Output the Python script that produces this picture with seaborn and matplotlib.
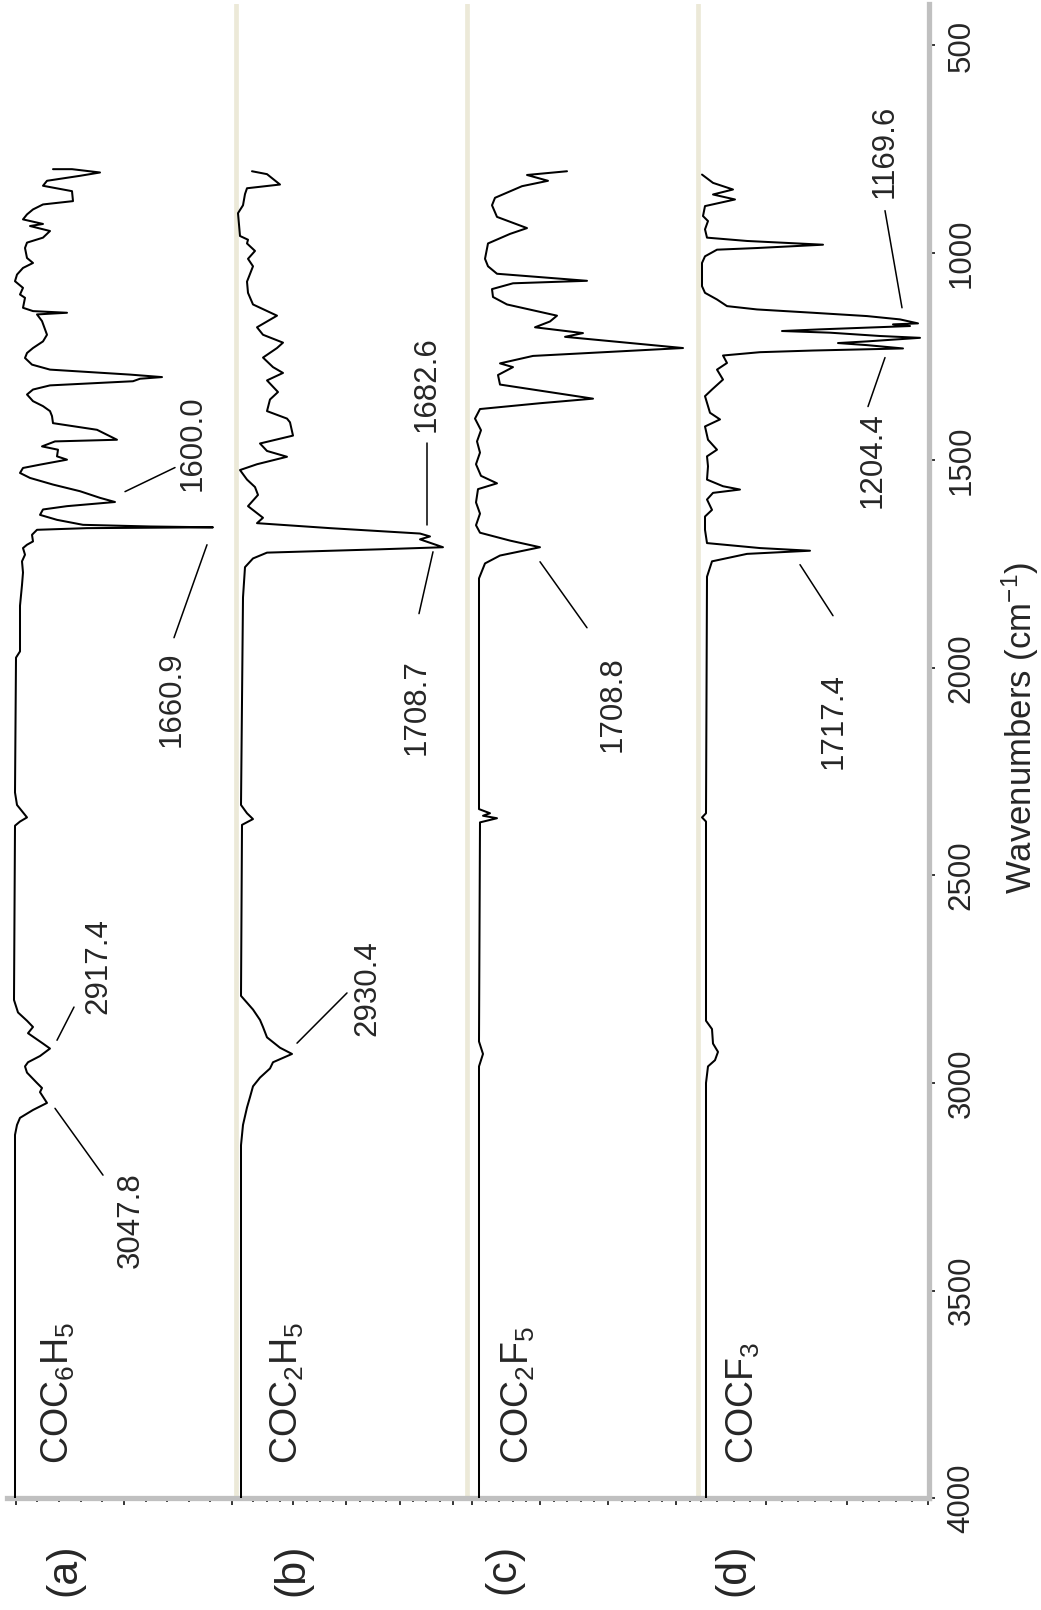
import numpy as np
import pandas as pd
import matplotlib
matplotlib.use("Agg")
import matplotlib.pyplot as plt
import seaborn as sns

# ---------------- data (wavenumber in cm-1, absorbance in arbitrary units) ----------------
a_wn = [798, 798, 806, 814, 826, 838, 851, 875, 883, 895,
        907, 919, 930, 935, 947, 963, 975, 988, 1012, 1024,
        1036, 1052, 1068, 1084, 1100, 1108, 1132, 1140, 1144, 1148,
        1164, 1197, 1213, 1229, 1241, 1253, 1269, 1281, 1293, 1299,
        1303, 1309, 1319, 1329, 1341, 1357, 1369, 1381, 1393, 1410,
        1426, 1450, 1454, 1466, 1474, 1490, 1498, 1510, 1518, 1530,
        1542, 1558, 1574, 1590, 1600, 1610, 1618, 1631, 1643, 1655,
        1659, 1661, 1663, 1667, 1679, 1695, 1703, 1711, 1727, 1743,
        1770, 1800, 1850, 1960, 1975, 2300, 2330, 2345, 2360, 2370,
        2380, 2800, 2830, 2850, 2865, 2880, 2905, 2917, 2935, 2950,
        2960, 2975, 3000, 3012, 3022, 3048, 3065, 3084, 3101, 3125,
        4000]
a_abs = [38, 57, 85, 65, 32, 28, 57, 58, 28, 18,
         12, 8, 28, 15, 35, 28, 12, 10, 12, 18,
         8, 2, 0, 8, 5, 10, 8, 18, 52, 22,
         27, 32, 28, 18, 12, 10, 17, 35, 115, 147,
         125, 118, 35, 18, 12, 18, 28, 35, 37, 38,
         82, 102, 40, 27, 43, 42, 52, 25, 8, 5,
         15, 38, 65, 85, 100, 52, 28, 25, 42, 68,
         135, 198, 72, 22, 17, 18, 12, 8, 10, 7,
         8, 7, 5, 5, 1, 0, 2, 7, 12, 5,
         0, -1, 3, 12, 18, 13, 28, 35, 25, 13,
         10, 12, 22, 27, 25, 32, 18, 5, 2, 0,
         0]

b_wn = [803, 810, 835, 844, 858, 885, 904, 959, 968, 977,
        995, 1014, 1032, 1069, 1096, 1124, 1151, 1165, 1179, 1197,
        1216, 1229, 1252, 1275, 1289, 1307, 1335, 1353, 1381, 1399,
        1408, 1440, 1459, 1477, 1491, 1509, 1523, 1546, 1564, 1583,
        1610, 1638, 1651, 1663, 1676, 1683, 1690, 1709, 1714, 1722,
        1736, 1757, 1830, 2330, 2350, 2364, 2378, 2790, 2823, 2848,
        2865, 2890, 2915, 2930, 2950, 2965, 2987, 3008, 3034, 3059,
        3101, 3150, 4000]
b_abs = [11, 26, 39, 6, 4, 2, -3, -1, 7, 6,
         14, 7, 12, 6, 7, 12, 36, 26, 16, 22,
         42, 36, 22, 32, 42, 26, 37, 29, 26, 46,
         49, 52, 19, 26, 46, 16, -1, 6, 14, 17,
         7, 22, 16, 89, 179, 189, 179, 202, 139, 26,
         12, 4, 2, 0, 6, 12, 1, 0, 12, 19,
         22, 26, 39, 51, 32, 29, 19, 12, 9, 6,
         2, 0, 0]

c_wn = [803, 812, 826, 839, 867, 885, 913, 940, 954, 977,
        1014, 1032, 1050, 1067, 1073, 1087, 1106, 1124, 1151, 1165,
        1179, 1193, 1202, 1229, 1248, 1266, 1275, 1294, 1317, 1351,
        1362, 1376, 1399, 1427, 1454, 1481, 1509, 1537, 1555, 1569,
        1601, 1628, 1656, 1674, 1693, 1709, 1729, 1748, 1784, 2340,
        2350, 2356, 2362, 2372, 2900, 2930, 2960, 4000]
c_abs = [88, 48, 69, 43, 16, 13, 18, 48, 31, 9,
         6, 9, 18, 108, 34, 13, 14, 28, 78, 71,
         56, 104, 86, 204, 54, 21, 34, 19, 21, 114,
         61, 1, -4, 2, -2, 1, -3, 2, 18, -1,
         -3, 1, -3, 1, 31, 61, 21, 6, 0, 0,
         11, 4, 18, 1, 0, 4, 0, 0]

d_wn = [811, 831, 847, 859, 871, 887, 911, 923, 943, 963,
        971, 980, 988, 992, 1008, 1024, 1080, 1096, 1112, 1128,
        1136, 1144, 1152, 1160, 1169.6, 1172, 1176, 1184, 1188, 1192,
        1200, 1204.4, 1213, 1217, 1222, 1230, 1235, 1239, 1247, 1265,
        1281, 1305, 1329, 1345, 1361, 1385, 1401, 1418, 1450, 1474,
        1490, 1514, 1546, 1562, 1570, 1578, 1594, 1619, 1635, 1667,
        1699, 1711, 1717.4, 1725, 1743, 1780, 2350, 2360, 2370, 2850,
        2870, 2905, 2925, 2945, 2960, 3000, 4000]
d_abs = [-4, 7, 27, 7, 29, -1, -3, 2, -1, 1,
         41, 117, 51, 11, -1, -4, -4, -1, 11, 21,
         51, 107, 161, 194, 212, 187, 204, 114, 76, 124,
         174, 214, 161, 132, 161, 197, 107, 54, 17, 21,
         11, 17, 6, -1, 1, 4, 14, -1, 2, 11,
         1, 2, 1, 17, 34, 7, 1, 6, -1, -1,
         1, 54, 104, 41, 6, 1, 0, -4, 0, 0,
         6, 7, 12, 9, 2, 0, 0]

compounds = ["COC$_6$H$_5$", "COC$_2$H$_5$", "COC$_2$F$_5$", "COCF$_3$"]
panel_tags = ["(a)", "(b)", "(c)", "(d)"]
peak_labels = ["3047.8", "2917.4", "1660.9", "1600.0", "2930.4", "1708.7",
               "1682.6", "1708.8", "1717.4", "1204.4", "1169.6"]
wn_ticks = [500, 1000, 1500, 2000, 2500, 3000, 3500, 4000]

# ---------------- layout / style ----------------
offsets = [15, 241, 479, 706]
separators = [236, 467, 698]
label_x = [58, 287, 518, 743]
tag_x = [64, 292, 503, 733]
peak_text_pos = [(131, 3330), (98, 2718), (172, 2076), (193, 1459), (367, 2771),
                 (417, 2095), (427, 1315), (613, 2087), (834, 2128), (873, 1498),
                 (885, 755)]
peak_lines = [(55, 3061, 103, 3222), (57, 2897, 74, 2817), (207, 1703, 174, 1927),
              (125, 1575, 175, 1517), (297, 2904, 347, 2783), (433, 1720, 419, 1869),
              (427, 1457, 427, 1655), (540, 1744, 587, 1903), (800, 1751, 833, 1874),
              (885, 1252, 868, 1370), (902, 1132, 885, 898)]

sns.set_style("white")
plt.rcParams["font.family"] = ["Liberation Sans", "DejaVu Sans"]
plt.rcParams["mathtext.fontset"] = "custom"
plt.rcParams["mathtext.rm"] = "Liberation Sans"
plt.rcParams["mathtext.it"] = "Liberation Sans:italic"
plt.rcParams["mathtext.default"] = "regular"

W, H = 1041, 1610
fig = plt.figure(figsize=(W / 100, H / 100), dpi=100)
ax = fig.add_axes([7 / W, 1 - 1498 / H, 922 / W, 1494 / H])

for xs in separators:
    ax.axvline(xs, color="#ECE9D8", lw=3.4, zorder=1)

spectra = [(a_wn, a_abs), (b_wn, b_abs), (c_wn, c_abs), (d_wn, d_abs)]
for (wn, ab), off in zip(spectra, offsets):
    df = pd.DataFrame({"wn": wn, "signal": np.array(ab, dtype=float) + off})
    sns.lineplot(data=df, x="signal", y="wn", sort=False, estimator=None,
                 orient="y", color="black", lw=1.45, ax=ax, zorder=3)

ax.set_xlim(7, 929)
ax.set_ylim(4000, 400)

# spines
for s in ["top", "left"]:
    ax.spines[s].set_visible(False)
for s in ["right", "bottom"]:
    ax.spines[s].set_color("#C0C0C0")
    ax.spines[s].set_linewidth(3.8)
    ax.spines[s].set_zorder(2)

# wavenumber axis (right)
ax.yaxis.tick_right()
ax.set_yticks(wn_ticks)
ax.set_yticks(np.arange(400, 4001, 100), minor=True)
ax.tick_params(axis="y", which="major", direction="out", length=4.2, width=1.1,
               color="black", labelsize=22.5, pad=8.5, labelrotation=90,
               left=False, right=True, labelleft=False, labelright=True)
ax.tick_params(axis="y", which="minor", direction="out", length=2.2, width=1.1,
               color="black", left=False, right=True)
for t in ax.yaxis.get_major_ticks():
    t.label2.set_va("center")

# intensity axis (bottom) – four tick blocks
maj, mnr = [], []
for start, step, n, every, skip0 in [(15.7, 21.64, 10, 5, False), (240, 13.3, 16, 4, True),
                                     (472, 13.6, 16, 5, False), (685, 16.2, 15, 5, True)]:
    for i in range(n + 1):
        if skip0 and i == 0:
            continue
        (maj if i % every == 0 else mnr).append(start + i * step)
ax.set_xticks(maj)
ax.set_xticks(mnr, minor=True)
ax.tick_params(axis="x", which="major", direction="out", length=5.3, width=1.1,
               color="black", bottom=True, top=False, labelbottom=False)
ax.tick_params(axis="x", which="minor", direction="out", length=2.9, width=1.1,
               color="black", bottom=True, top=False)

ax.set_xlabel("")
ax.set_ylabel("Wavenumbers (cm$^{-1}$)", fontsize=25, rotation=90)
ax.yaxis.set_label_position("right")
ax.yaxis.set_label_coords(1.077, 0.5154)

# compound labels and panel tags
for txt, x in zip(compounds, label_x):
    ax.text(x, 3917, txt, rotation=90, ha="center", va="bottom", fontsize=27, zorder=4)
for txt, x in zip(panel_tags, tag_x):
    ax.text(x, 4172, txt, rotation=90, ha="center", va="center", fontsize=31,
            clip_on=False)

# peak annotations
for txt, (tx, ty), (x1, y1, x2, y2) in zip(peak_labels, peak_text_pos, peak_lines):
    ax.plot([x1, x2], [y1, y2], color="black", lw=1.1, zorder=4)
    ax.text(tx, ty, txt, rotation=90, ha="center", va="center", fontsize=22.5, zorder=4)

fig.savefig("out.png", dpi=100)
